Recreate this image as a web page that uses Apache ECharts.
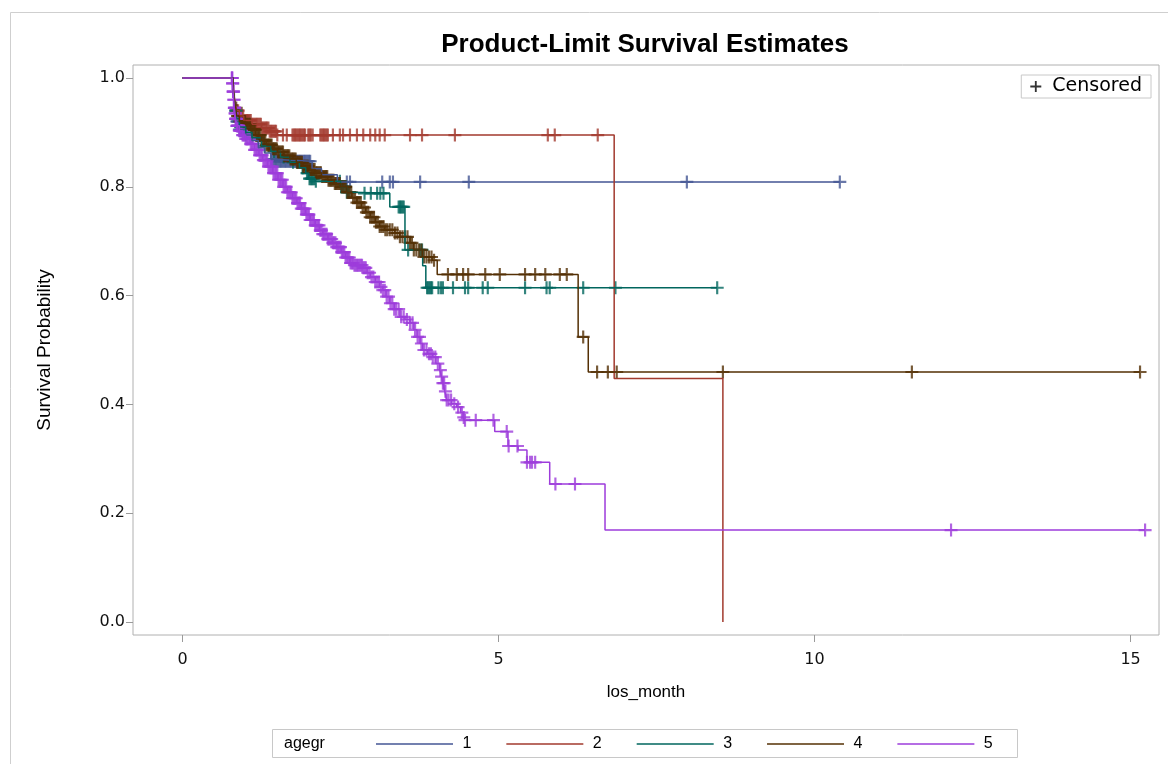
<!DOCTYPE html>
<html>
<head>
<meta charset="utf-8">
<title>Product-Limit Survival Estimates</title>
<script src="https://cdn.jsdelivr.net/npm/echarts@6/dist/echarts.min.js"></script>
<style>
  html, body { margin: 0; padding: 0; background: #ffffff; }
  #chart { width: 1168px; height: 764px; }
</style>
</head>
<body>
<div id="chart"></div>
<script>
// Kaplan-Meier product-limit estimates by age group (los_month on the x axis)

const groupNames = ['1', '2', '3', '4', '5'];
const groupColors = ['#445694', '#A23A2E', '#01665E', '#543005', '#9D3CDB'];

const xTicks = [0, 5, 10, 15];
const yTicks = [0, 0.2, 0.4, 0.6, 0.8, 1.0];

// step points [time, survival after the step]
const steps1 = [
  [0, 1], [0.80, 0.98], [0.82, 0.96], [0.84, 0.94], [0.86, 0.92], [0.90, 0.905],
  [1.00, 0.895], [1.10, 0.885], [1.20, 0.872], [1.30, 0.862], [1.40, 0.850],
  [1.50, 0.847], [2.05, 0.833], [2.20, 0.822], [2.45, 0.809]
];
// censoring times
const censor1 = [
  0.84, 0.85, 0.86, 0.87, 0.88, 0.89, 0.90, 0.92, 0.94, 0.96, 0.98, 1.00,
  1.40, 1.42, 1.44, 1.46, 1.48, 1.50, 1.52, 1.54, 1.56, 1.58, 1.60, 1.62, 1.64,
  1.66, 1.68, 1.70, 1.72, 1.74, 1.76, 1.78, 1.80, 1.82, 1.84, 1.86, 1.88, 1.90,
  1.92, 1.94, 1.96, 1.98, 2.00, 2.02,
  2.60, 2.65, 3.16, 3.28, 3.33, 3.76, 4.53, 7.98, 10.40
];
const end1 = 10.40;

const steps2 = [
  [0, 1], [0.80, 0.985], [0.82, 0.965], [0.84, 0.950], [0.86, 0.940], [0.90, 0.930],
  [0.97, 0.922], [1.10, 0.915], [1.25, 0.908], [1.38, 0.902], [1.50, 0.895],
  [6.83, 0.4475], [8.55, 0]
];
const censor2 = [
  0.86, 0.88, 0.90, 0.92, 0.94, 0.96, 0.98, 1.00, 1.02, 1.04, 1.06, 1.08, 1.10,
  1.12, 1.14, 1.16, 1.18, 1.20, 1.22, 1.24, 1.26, 1.28, 1.30, 1.32, 1.34, 1.36,
  1.38, 1.40, 1.42, 1.44, 1.46, 1.48, 1.50,
  1.59, 1.65, 1.74, 1.76, 1.78, 1.80, 1.82, 1.84, 1.86, 1.88, 1.90, 1.92, 1.94,
  1.99, 2.01, 2.03, 2.06, 2.18, 2.20, 2.22, 2.24, 2.26, 2.28, 2.30,
  2.38, 2.49, 2.54, 2.65, 2.76, 2.86, 2.97, 3.05, 3.12, 3.20, 3.60, 3.79, 4.31,
  5.78, 5.89, 6.57
];
const end2 = 8.55;

const steps3 = [
  [0, 1], [0.80, 0.98], [0.82, 0.96], [0.84, 0.94], [0.86, 0.925], [0.90, 0.910],
  [1.00, 0.900], [1.10, 0.890], [1.25, 0.875], [1.40, 0.865], [1.55, 0.855],
  [1.70, 0.845], [1.85, 0.835], [1.95, 0.825], [2.00, 0.815], [2.10, 0.810],
  [2.50, 0.800], [2.60, 0.790], [2.70, 0.788], [3.28, 0.763], [3.52, 0.684],
  [3.80, 0.655], [3.85, 0.6145]
];
const censor3 = [
  0.85, 0.88, 0.92, 0.96, 1.00, 1.10, 1.20, 1.30, 1.45, 1.60, 1.75, 1.90,
  1.97, 1.99, 2.01, 2.03, 2.05, 2.07, 2.09, 2.11, 2.49, 2.51, 2.53, 2.55, 2.58,
  2.60, 2.62, 2.64, 2.88, 2.98, 3.08, 3.13, 3.18,
  3.42, 3.44, 3.46, 3.48, 3.50, 3.57, 3.76, 3.79, 3.87, 3.89, 3.91, 3.93, 3.95,
  4.05, 4.09, 4.12, 4.28, 4.47, 4.52, 4.75, 4.83, 5.42, 5.76, 5.81, 6.34, 6.85, 8.46
];
const end3 = 8.46;

const steps4 = [
  [0, 1], [0.80, 0.98], [0.82, 0.96], [0.84, 0.945], [0.86, 0.930], [0.90, 0.920],
  [1.00, 0.915], [1.08, 0.905], [1.16, 0.895], [1.25, 0.885], [1.33, 0.877],
  [1.42, 0.870], [1.50, 0.864], [1.60, 0.857], [1.70, 0.851], [1.80, 0.845],
  [1.90, 0.838], [2.00, 0.832], [2.10, 0.826], [2.20, 0.819], [2.30, 0.812],
  [2.40, 0.806], [2.50, 0.800], [2.60, 0.790], [2.68, 0.780], [2.76, 0.771],
  [2.83, 0.762], [2.90, 0.753], [2.97, 0.744], [3.05, 0.735], [3.12, 0.727],
  [3.20, 0.721], [3.36, 0.715], [3.44, 0.708], [3.60, 0.697], [3.66, 0.684],
  [3.80, 0.671], [3.95, 0.665], [4.03, 0.639], [6.26, 0.524], [6.42, 0.4596]
];
const censor4 = [
  0.85, 0.87, 0.89, 0.91, 0.93, 0.95, 0.97, 0.99, 1.01, 1.03, 1.05, 1.07, 1.09,
  1.11, 1.13, 1.15, 1.17, 1.19, 1.21, 1.23, 1.25, 1.27, 1.29, 1.31, 1.33, 1.35,
  1.37, 1.39, 1.41, 1.43, 1.45, 1.47, 1.49, 1.51, 1.53, 1.55, 1.57, 1.59, 1.61,
  1.63, 1.65, 1.67, 1.69, 1.71, 1.73, 1.75, 1.77, 1.79, 1.81, 1.83, 1.85, 1.87,
  1.89, 1.91, 1.93, 1.95, 1.97, 1.99, 2.01, 2.03, 2.05, 2.07, 2.09, 2.11, 2.13,
  2.15, 2.17, 2.19, 2.21, 2.23, 2.25, 2.27, 2.29, 2.31, 2.33, 2.35, 2.37, 2.39,
  2.41, 2.43, 2.45, 2.47, 2.49, 2.52, 2.55, 2.58, 2.61, 2.64, 2.67, 2.70, 2.73,
  2.76, 2.79, 2.82, 2.85, 2.88, 2.91, 2.94, 2.97, 3.00, 3.03, 3.06, 3.09, 3.12,
  3.15, 3.18, 3.21, 3.24, 3.28, 3.32, 3.36, 3.40, 3.44, 3.48, 3.52, 3.56, 3.60,
  3.63, 3.66, 3.70, 3.74, 3.78, 3.82, 3.86, 3.90, 3.94, 3.98,
  4.20, 4.34, 4.44, 4.52, 4.79, 5.02, 5.42, 5.58, 5.74, 5.97, 6.08, 6.34,
  6.56, 6.73, 6.87, 8.55, 11.54, 15.15
];
const end4 = 15.15;

const steps5 = [
  [0, 1], [0.79, 0.990], [0.80, 0.975], [0.81, 0.960], [0.82, 0.945], [0.83, 0.935],
  [0.84, 0.925], [0.86, 0.912], [0.90, 0.903], [0.95, 0.895], [1.00, 0.888],
  [1.07, 0.879], [1.14, 0.868], [1.21, 0.858], [1.27, 0.849], [1.35, 0.837],
  [1.43, 0.825], [1.51, 0.813], [1.59, 0.800], [1.66, 0.790], [1.74, 0.779],
  [1.81, 0.770], [1.88, 0.760], [1.95, 0.749], [2.02, 0.739], [2.10, 0.729],
  [2.17, 0.720], [2.22, 0.713], [2.30, 0.704], [2.37, 0.697], [2.44, 0.689],
  [2.51, 0.680], [2.58, 0.670], [2.65, 0.660], [2.72, 0.656], [2.86, 0.651],
  [2.92, 0.642], [2.97, 0.634], [3.05, 0.625], [3.12, 0.616], [3.17, 0.610],
  [3.22, 0.598], [3.28, 0.586], [3.35, 0.575], [3.44, 0.561], [3.52, 0.556],
  [3.60, 0.550], [3.66, 0.537], [3.71, 0.524], [3.76, 0.512], [3.80, 0.500],
  [3.88, 0.493], [3.96, 0.487], [4.01, 0.475], [4.07, 0.463], [4.10, 0.451],
  [4.12, 0.439], [4.15, 0.424], [4.18, 0.408], [4.26, 0.401], [4.34, 0.395],
  [4.40, 0.385], [4.44, 0.376], [4.46, 0.371], [4.94, 0.350], [5.15, 0.3235],
  [5.31, 0.316], [5.45, 0.2935], [5.81, 0.2537], [6.685, 0.169]
];
const censor5 = [
  0.780, 0.784, 0.788, 0.792, 0.796, 0.800, 0.804, 0.808, 0.812, 0.816, 0.820,
  0.824, 0.828, 0.832, 0.836, 0.840, 0.845, 0.850, 0.855, 0.860, 0.866, 0.872,
  0.878, 0.885, 0.892, 0.90, 0.91, 0.92, 0.935, 0.95, 0.965, 0.98,
  1.00, 1.02, 1.04, 1.06, 1.08, 1.10, 1.12, 1.14, 1.16, 1.18, 1.20, 1.22, 1.24,
  1.26, 1.28, 1.30, 1.32, 1.34, 1.36, 1.38, 1.40, 1.42, 1.44, 1.46, 1.48, 1.50,
  1.52, 1.54, 1.56, 1.58, 1.60, 1.62, 1.64, 1.66, 1.68, 1.70, 1.72, 1.74, 1.76,
  1.78, 1.80, 1.82, 1.84, 1.86, 1.88, 1.90, 1.92, 1.94, 1.96, 1.98, 2.00, 2.02,
  2.04, 2.06, 2.08, 2.10, 2.12, 2.14, 2.16, 2.18, 2.20, 2.22, 2.24, 2.26, 2.28,
  2.30, 2.32, 2.34, 2.36, 2.38, 2.40, 2.42, 2.44, 2.46, 2.48, 2.50, 2.52, 2.54,
  2.56, 2.58, 2.60, 2.62, 2.64, 2.66, 2.68, 2.70, 2.72, 2.74, 2.76, 2.78, 2.80,
  2.82, 2.84, 2.86, 2.88, 2.90, 2.93, 2.96, 2.99, 3.02, 3.05, 3.08, 3.11, 3.14,
  3.17, 3.20, 3.23, 3.26, 3.29, 3.32, 3.35, 3.38, 3.42, 3.46, 3.50, 3.55, 3.60,
  3.64, 3.68, 3.72, 3.75, 3.78, 3.82, 3.86, 3.90, 3.93, 3.96, 4.00, 4.04, 4.08,
  4.10, 4.12, 4.14, 4.16, 4.18, 4.21, 4.25, 4.30, 4.36, 4.42, 4.45, 4.47, 4.64,
  4.92, 5.13, 5.16, 5.30, 5.45, 5.50, 5.53, 5.58, 5.90, 6.21, 12.16, 15.23
];
const end5 = 15.23;

const allSteps = [steps1, steps2, steps3, steps4, steps5];
const allCensors = [censor1, censor2, censor3, censor4, censor5];
const allEnds = [end1, end2, end3, end4, end5];

// survival value of a step curve at time t (right-continuous)
function survivalAt(steps, t) {
  let s = steps[0][1];
  for (const [ti, si] of steps) {
    if (ti <= t + 1e-9) s = si; else break;
  }
  return s;
}

// plus-shaped censoring marker
const plusPath = 'path://M5,0H7V12H5Z M0,5H12V7H0Z';

const series = [];
groupNames.forEach((name, i) => {
  const steps = allSteps[i];
  const lineData = steps.map(p => [p[0], p[1]]);
  const last = steps[steps.length - 1];
  if (allEnds[i] > last[0]) lineData.push([allEnds[i], last[1]]);
  series.push({
    name: name,
    type: 'line',
    step: 'end',
    data: lineData,
    symbol: 'none',
    clip: false,
    lineStyle: { color: groupColors[i], width: 1.5 },
    itemStyle: { color: groupColors[i] },
    emphasis: { disabled: true }
  });
  series.push({
    name: 'Censored',
    type: 'scatter',
    data: allCensors[i].map(t => [t, survivalAt(steps, t)]),
    symbol: plusPath,
    symbolSize: [13, 13],
    clip: false,
    itemStyle: { color: groupColors[i] },
    emphasis: { disabled: true }
  });
});

const tickFont = 'DejaVu Sans';
const textFont = 'Liberation Sans';

const chart = echarts.init(document.getElementById('chart'), null, { renderer: 'canvas' });
chart.setOption({
  animation: false,
  backgroundColor: '#ffffff',
  grid: {
    left: 133, right: 9, top: 65, bottom: 129,
    show: true, borderColor: '#b0b0b0', borderWidth: 1, backgroundColor: 'transparent'
  },
  xAxis: {
    type: 'value',
    min: -0.783, max: 15.45,
    name: 'los_month',
    nameLocation: 'middle',
    nameGap: 49,
    nameTextStyle: { fontFamily: textFont, fontSize: 17, color: '#000' },
    axisLine: { show: false, onZero: false },
    splitLine: { show: false },
    axisTick: { show: true, customValues: xTicks, length: 7, lineStyle: { color: '#9a9a9a' } },
    axisLabel: {
      customValues: xTicks, margin: 17, fontFamily: tickFont, fontSize: 16, color: '#111',
      formatter: v => String(v)
    }
  },
  yAxis: {
    type: 'value',
    min: -0.0239, max: 1.0239,
    name: 'Survival Probability',
    nameLocation: 'middle',
    nameGap: 79,
    nameRotate: 90,
    nameTextStyle: { fontFamily: textFont, fontSize: 19, color: '#000' },
    axisLine: { show: false, onZero: false },
    splitLine: { show: false },
    axisTick: { show: true, customValues: yTicks, length: 7, lineStyle: { color: '#9a9a9a' } },
    axisLabel: {
      customValues: yTicks, margin: 8, fontFamily: tickFont, fontSize: 16, color: '#111',
      formatter: v => v.toFixed(1)
    }
  },
  legend: [
    {
      data: groupNames,
      left: 376, top: 736,
      padding: 0,
      icon: 'rect',
      itemWidth: 77, itemHeight: 1.5, itemGap: 35,
      formatter: n => ' ' + n,
      textStyle: { fontFamily: textFont, fontSize: 16, color: '#000' },
      selectedMode: false
    },
    {
      data: [{ name: 'Censored', icon: plusPath, itemStyle: { color: '#000' } }],
      right: 17, top: 75,
      padding: [2, 9, 2, 9],
      borderColor: '#c8c8c8', borderWidth: 1,
      itemWidth: 11, itemHeight: 11,
      formatter: n => ' ' + n,
      textStyle: { fontFamily: tickFont, fontSize: 19, color: '#000' },
      selectedMode: false
    }
  ],
  graphic: [
    {
      type: 'rect', silent: true, z: -1,
      shape: { x: 10.5, y: 12.5, width: 1200, height: 800 },
      style: { fill: 'none', stroke: '#cfcfcf', lineWidth: 1 }
    },
    {
      type: 'text', silent: true,
      x: 645, y: 45,
      style: {
        text: 'Product-Limit Survival Estimates',
        fontFamily: textFont, fontSize: 26, fontWeight: 'bold', fill: '#000',
        align: 'center', verticalAlign: 'middle'
      }
    },
    {
      type: 'rect', silent: true,
      shape: { x: 272.5, y: 729.5, width: 745, height: 28 },
      style: { fill: 'none', stroke: '#c8c8c8', lineWidth: 1 }
    },
    {
      type: 'text', silent: true,
      x: 284, y: 744,
      style: {
        text: 'agegr', fontFamily: textFont, fontSize: 16, fill: '#000',
        align: 'left', verticalAlign: 'middle'
      }
    }
  ],
  series: series
});
</script>
</body>
</html>
